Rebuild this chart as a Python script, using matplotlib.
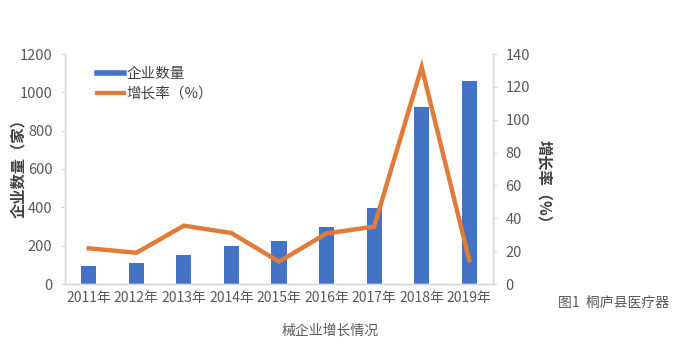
import matplotlib
matplotlib.use("Agg")
import matplotlib.pyplot as plt
from matplotlib.lines import Line2D

plt.rcParams['font.family'] = ['Noto Sans CJK SC', 'DejaVu Sans']

years = ["2011年", "2012年", "2013年", "2014年", "2015年", "2016年", "2017年", "2018年", "2019年"]
companies = [94, 111, 151, 198, 224, 296, 398, 923, 1059]
growth = [21.7, 19, 35.5, 31, 13.6, 30.8, 34.9, 132, 14.6]
left_ticks = [0, 200, 400, 600, 800, 1000, 1200]
right_ticks = [0, 20, 40, 60, 80, 100, 120, 140]

W, H = 673, 354
fig = plt.figure(figsize=(W / 100, H / 100), dpi=100)
ax = fig.add_axes([65 / W, 1 - 284 / H, (493 - 65) / W, (284 - 54) / H])
ax2 = ax.twinx()

bar_color = "#4472C4"
line_color = "#E07B39"
grey = "#595959"
spine_c = "#D9D9D9"

x = list(range(len(years)))
ax.bar(x, companies, width=0.32, color=bar_color, zorder=2)
ax2.plot(x, growth, color=line_color, lw=3.2, solid_joinstyle='miter', zorder=3)

ax.set_xlim(-0.5, len(years) - 0.5)
ax.set_ylim(0, 1200)
ax2.set_ylim(0, 140)
ax.set_yticks(left_ticks)
ax2.set_yticks(right_ticks)
ax.set_xticks(x)
ax.set_xticklabels(years)

for a in (ax, ax2):
    a.spines['top'].set_visible(False)
    for s in ('left', 'right', 'bottom'):
        a.spines[s].set_color(spine_c)
        a.spines[s].set_linewidth(1.0)
    a.tick_params(axis='y', colors=grey, labelsize=10.5, length=3, color=spine_c)
ax.tick_params(axis='x', colors=grey, labelsize=10, length=0, pad=5)
ax.tick_params(axis='y', pad=6)
ax2.tick_params(axis='y', pad=6)

fig.text(18 / W, 1 - 165 / H, "企业数量（家）", fontsize=11, color="#404040", fontweight='bold',
         rotation=90, ha='center', va='center')
fig.text(544 / W, 1 - 185 / H, "增长率（%）", fontsize=11, color="#404040", fontweight='bold',
         rotation=-90, ha='center', va='center')

handles = [Line2D([0], [0], color=bar_color, lw=4), Line2D([0], [0], color=line_color, lw=3)]
leg = ax.legend(handles, ["企业数量", "增长率（%）"], loc='upper left', bbox_to_anchor=(0.045, 1.0),
                frameon=False, fontsize=10.5, handlelength=1.8, handletextpad=0.2, labelspacing=0.4,
                labelcolor="#404040")

fig.text(558 / W, 1 - 303 / H, "图1  桐庐县医疗器", fontsize=10, color=grey, ha='left', va='center')
fig.text(330 / W, 1 - 331 / H, "械企业增长情况", fontsize=10, color=grey, ha='center', va='center')

fig.savefig("out.png", dpi=100, facecolor='white')
